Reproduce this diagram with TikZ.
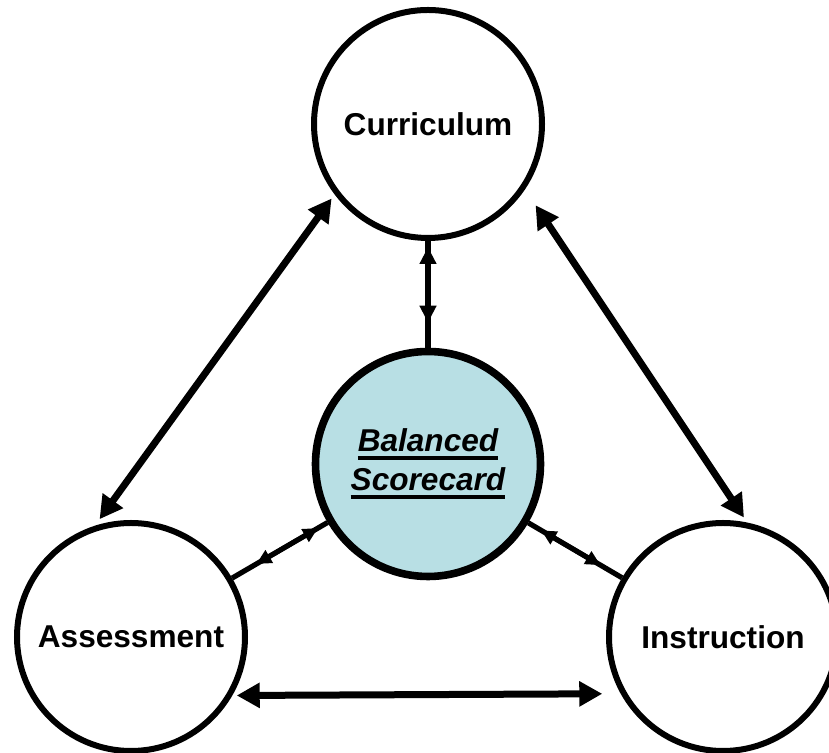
\documentclass[tikz,border=0pt]{standalone}
\usepackage{fontspec}
\setmainfont{Liberation Sans}
\usetikzlibrary{arrows.meta}
\definecolor{corefill}{RGB}{184,223,228}
% heavy underline for the centre label
\newcommand\ulword[1]{\setbox0=\hbox{#1}\rlap{\rule[-4pt]{\wd0}{1.8pt}}\box0}
\begin{document}
\begin{tikzpicture}[x=0.5pt,y=0.5pt,
  topic/.style={circle,draw=black,line width=3pt,fill=white,minimum size=114pt,inner sep=0pt,
    font=\fontsize{15.8}{19.5}\selectfont\bfseries},
  core/.style={circle,draw=black,line width=3.8pt,fill=corefill,minimum size=112.5pt,inner sep=0pt,
    align=center,font=\fontsize{15.8}{19.5}\selectfont\bfseries\itshape},
  bigarrow/.style={line width=3.5pt,{Triangle[length=11.5pt,width=12pt]}-{Triangle[length=11.5pt,width=12pt]}},
  link/.style={line width=2.6pt},
  smalltips/.style={line width=2.6pt,{Triangle[length=8.5pt,width=8pt]}-{Triangle[length=8.5pt,width=8pt]}},
  diagtips/.style={line width=2.4pt,{Triangle[length=7.5pt,width=7pt]}-{Triangle[length=7.5pt,width=7pt]}}]
\useasboundingbox (0,0) rectangle (829,753);

\node[topic] (cur)  at (428,629) {Curriculum};
\node[topic] (ass)  at (131,116) {Assessment};
\node[topic] (inst) at (723,116) {Instruction};
\node[core]  (cen)  at (428,289) {\ulword{Balanced}\\\ulword{Scorecard}};

% outer triangle of double arrows
\draw[bigarrow,shorten <=2.5pt,shorten >=4pt] (cur.217.6) -- (ass.108.1);
\draw[bigarrow,shorten <=9.5pt,shorten >=3pt] (cur.326.2) -- (inst.78.8);
\draw[bigarrow,shorten <=2.2pt,shorten >=9.2pt] (ass.330.3) -- (inst.209.7);

% spokes to the centre
\draw[link] (cur) -- (cen);
\draw[smalltips,shorten <=3pt,shorten >=12.5pt] (cur) -- (cen);
\draw[link] (ass) -- (cen);
\draw[diagtips,shorten <=14pt,shorten >=5.5pt] (ass) -- (cen);
\draw[link] (cen) -- (inst);
\draw[diagtips,shorten <=7.5pt,shorten >=12.5pt] (cen) -- (inst);
\end{tikzpicture}
\end{document}
